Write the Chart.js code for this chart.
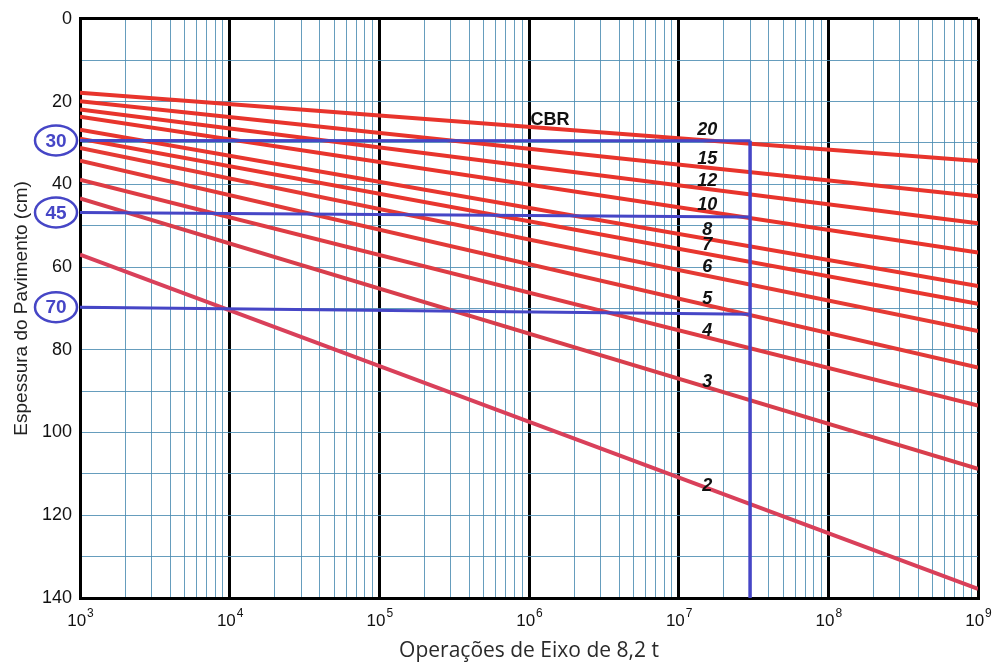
<!DOCTYPE html>
<html>
<head>
<meta charset="utf-8">
<title>Espessura do Pavimento x Operações de Eixo</title>
<script src="https://cdn.jsdelivr.net/npm/chart.js@4.4.1/dist/chart.umd.min.js"></script>
<style>
  html, body { margin: 0; padding: 0; background: #fff; }
</style>
</head>
<body>
<canvas id="chart" width="995" height="666"></canvas>
<script>
// CBR curves (thickness in cm at 10^3 and at 10^9 operations)
const cbrLabels = ["20", "15", "12", "10", "8", "7", "6", "5", "4", "3", "2"];
const operationsRange = [1e3, 1e9];
const thicknessAtStart = [17.9, 19.9, 21.9, 23.7, 26.8, 29.0, 31.2, 34.3, 38.9, 43.4, 57.0];
const thicknessAtEnd = [34.4, 42.9, 49.4, 56.5, 64.6, 68.9, 75.5, 84.3, 93.5, 108.8, 137.8];

// where the curve numbers sit
const labelOperations = 1.55e7;
const labelThickness = [27.0, 33.9, 39.2, 45.1, 51.0, 54.6, 60.1, 67.7, 75.5, 87.9, 112.9];
const cbrTitlePos = [1.38e6, 24.4];

// design example drawn in blue
const designOperations = 3e7;
const designLabels = ["30", "45", "70"];
const designStart = [29.4, 46.8, 69.7];
const designEnd = [29.5, 47.9, 71.4];

const redColors = ["#e8342c", "#e8342c", "#e8342c", "#e8342c", "#e8362e", "#e8362e",
                   "#e53a34", "#e23a38", "#de3c44", "#d83e4c", "#d9405a"];
const blue = "#4646c6";
const gridBlue = "rgba(75,140,178,0.85)";
const fontSans = "'Liberation Sans', Arial, sans-serif";

const isDecade = v => Math.abs(Math.log10(v) - Math.round(Math.log10(v))) < 1e-6;

const xTickValues = [];
for (let e = 3; e <= 8; e++) {
    for (let m = 1; m <= 9; m++) xTickValues.push(m * Math.pow(10, e));
}
xTickValues.push(1e9);

const datasets = [];
designLabels.forEach((t, i) => {
    datasets.push({
        label: "H = " + t + " cm",
        data: [{ x: operationsRange[0], y: designStart[i] }, { x: designOperations, y: designEnd[i] }],
        borderColor: blue, borderWidth: 3, order: 0
    });
});
datasets.push({
    label: "N projeto",
    data: [{ x: designOperations, y: designEnd[0] }, { x: designOperations, y: 140 }],
    borderColor: blue, borderWidth: 3.5, order: 0
});
cbrLabels.forEach((t, i) => {
    datasets.push({
        label: "CBR " + t,
        data: [{ x: operationsRange[0], y: thicknessAtStart[i] }, { x: operationsRange[1], y: thicknessAtEnd[i] }],
        borderColor: redColors[i], borderWidth: 4, order: 1
    });
});

const annotations = {
    id: "annotations",
    afterDatasetsDraw(chart) {
        const { ctx, chartArea } = chart;
        const x = chart.scales.x, y = chart.scales.y;
        ctx.save();
        ctx.textAlign = "center";
        ctx.textBaseline = "middle";
        ctx.fillStyle = "#111";
        ctx.font = "italic bold 18px " + fontSans;
        cbrLabels.forEach((t, i) => {
            ctx.fillText(t, x.getPixelForValue(labelOperations), y.getPixelForValue(labelThickness[i]));
        });
        ctx.font = "bold 18px " + fontSans;
        ctx.fillText("CBR", x.getPixelForValue(cbrTitlePos[0]), y.getPixelForValue(cbrTitlePos[1]));

        // circled thickness values at the left axis
        designLabels.forEach((t, i) => {
            const cx = chartArea.left - 24;
            const cy = y.getPixelForValue(designStart[i]);
            ctx.beginPath();
            ctx.ellipse(cx, cy, 21, 15, 0, 0, Math.PI * 2);
            ctx.fillStyle = "#fff";
            ctx.fill();
            ctx.lineWidth = 2.5;
            ctx.strokeStyle = blue;
            ctx.stroke();
            ctx.fillStyle = blue;
            ctx.font = "bold 19px " + fontSans;
            ctx.fillText(t, cx, cy + 1);
        });

        // x tick labels as 10 with a raised exponent
        ctx.fillStyle = "#111";
        ctx.textAlign = "left";
        ctx.textBaseline = "alphabetic";
        x.ticks.forEach(t => {
            if (!isDecade(t.value)) return;
            const px = x.getPixelForValue(t.value);
            const exp = String(Math.round(Math.log10(t.value)));
            ctx.font = "17px " + fontSans;
            const w1 = ctx.measureText("10").width;
            ctx.font = "12px " + fontSans;
            const w2 = ctx.measureText(exp).width;
            const left = px - (w1 + w2) / 2;
            const base = chartArea.bottom + 28;
            ctx.font = "17px " + fontSans;
            ctx.fillText("10", left, base);
            ctx.font = "12px " + fontSans;
            ctx.fillText(exp, left + w1 + 1, base - 9);
        });
        ctx.restore();
    }
};

new Chart(document.getElementById("chart").getContext("2d"), {
    type: "line",
    data: { datasets: datasets },
    options: {
        responsive: false,
        animation: false,
        layout: { padding: { top: 15, right: 17, left: 0, bottom: 0 } },
        plugins: { legend: { display: false }, tooltip: { enabled: false } },
        elements: { point: { radius: 0 }, line: { tension: 0, borderCapStyle: "butt" } },
        scales: {
            x: {
                type: "logarithmic",
                min: 1e3,
                max: 1e9,
                afterBuildTicks: s => { s.ticks = xTickValues.map(v => ({ value: v })); },
                afterFit: s => { s.height = 68; },
                ticks: { display: false, autoSkip: false },
                grid: {
                    drawTicks: false,
                    color: c => (c.tick && isDecade(c.tick.value)) ? "#000" : gridBlue,
                    lineWidth: c => (c.tick && isDecade(c.tick.value)) ? 3 : 1
                },
                border: { color: "#000", width: 3 },
                title: {
                    display: true, text: "Operações de Eixo de 8,2 t", color: "#2a2a2a",
                    font: { family: "'Open Sans', sans-serif", size: 21 },
                    padding: { top: 0, bottom: 2 }
                }
            },
            y: {
                reverse: true,
                min: 0,
                max: 140,
                afterFit: s => { s.width = 80; },
                ticks: {
                    stepSize: 10, autoSkip: false, padding: 8, color: "#111",
                    font: { family: fontSans, size: 18 },
                    callback: v => v % 20 === 0 ? String(v) : ""
                },
                grid: {
                    drawTicks: false,
                    color: c => (c.tick && c.tick.value === 0) ? "#000" : gridBlue,
                    lineWidth: c => (c.tick && c.tick.value === 0) ? 3 : 1
                },
                border: { color: "#000", width: 3 },
                title: {
                    display: true, text: "Espessura do Pavimento (cm)", color: "#222",
                    font: { family: fontSans, size: 19 },
                    padding: { top: 10, bottom: 0 }
                }
            }
        }
    },
    plugins: [annotations]
});
</script>
</body>
</html>
